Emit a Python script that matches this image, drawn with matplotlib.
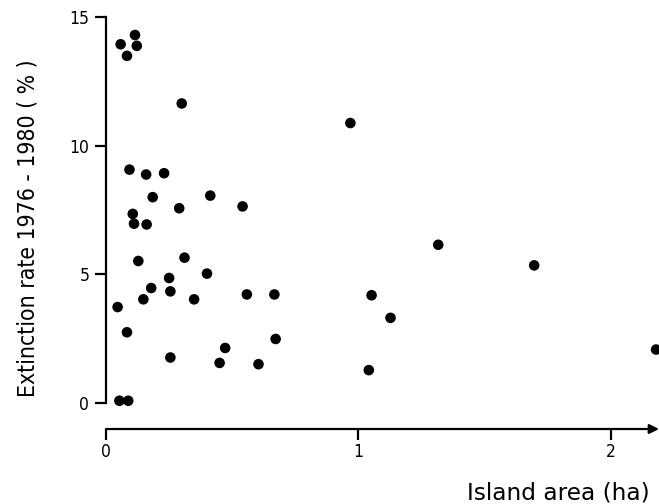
import matplotlib
matplotlib.use('Agg')
import matplotlib.pyplot as plt

# Island area (ha) and extinction rate 1976-1980 (%)
area = [0.058, 0.083, 0.115, 0.122, 0.300, 0.093, 0.159, 0.230, 0.185, 0.413,
        0.290, 0.541, 0.106, 0.111, 0.161,
        0.128, 0.311, 0.400, 0.250, 0.179, 0.255, 0.148, 0.349, 0.558, 0.667,
        0.046, 0.083, 0.672, 0.472, 0.255, 0.450, 0.604, 0.053, 0.088,
        0.968, 1.316, 1.696, 1.052, 1.127, 1.041, 2.179]
extinction = [13.94, 13.49, 14.30, 13.88, 11.64, 9.07, 8.88, 8.93, 8.00, 8.06,
              7.57, 7.64, 7.35, 6.97, 6.94,
              5.52, 5.65, 5.03, 4.86, 4.47, 4.34, 4.03, 4.03, 4.22, 4.22,
              3.73, 2.75, 2.49, 2.14, 1.77, 1.56, 1.51, 0.09, 0.09,
              10.88, 6.15, 5.35, 4.19, 3.31, 1.28, 2.08]

x_ticks = [0, 1, 2]
y_ticks = [0, 5, 10, 15]

W, H = 659, 504
fig = plt.figure(figsize=(W / 100, H / 100), dpi=100)

# axes box: x=0 at 106 px, y=15 at 17 px, bottom axis line at 429 px
ax = fig.add_axes([106 / W, 1 - 429 / H, (W - 106) / W, (429 - 17) / H])
x_max = (W - 1 - 106) / 252.0
y_min = -(429 - 403) / 25.8
ax.set_xlim(0, x_max)
ax.set_ylim(y_min, 15)

ax.scatter(area, extinction, s=58, color='black', edgecolors='none', clip_on=False)

for side in ['top', 'right', 'bottom']:
    ax.spines[side].set_visible(False)
ax.spines['left'].set_bounds(0, 15)
ax.spines['left'].set_linewidth(1.6)

# bottom axis with arrow head
ax.annotate('', xy=(x_max, y_min), xytext=(0, y_min), xycoords='data',
            arrowprops=dict(arrowstyle='-|>', color='black', lw=1.6,
                            mutation_scale=14, shrinkA=0, shrinkB=0),
            annotation_clip=False)

ax.set_xticks(x_ticks)
ax.set_yticks(y_ticks)
ax.tick_params(direction='out', length=8, width=1.6, labelsize=12.5)
ax.tick_params(axis='x', pad=2)
ax.tick_params(axis='y', pad=4)
for lab in ax.get_xticklabels() + ax.get_yticklabels():
    lab.set_fontstretch('condensed')

fig.text(28 / W, 1 - 228 / H, 'Extinction rate 1976 - 1980 ( % )', rotation=90,
         ha='center', va='center', fontsize=16.5, fontstretch='condensed')
fig.text(650 / W, 1 - 493 / H, 'Island area (ha)', ha='right', va='center',
         fontsize=16.7)

fig.savefig('out.png', dpi=100)
